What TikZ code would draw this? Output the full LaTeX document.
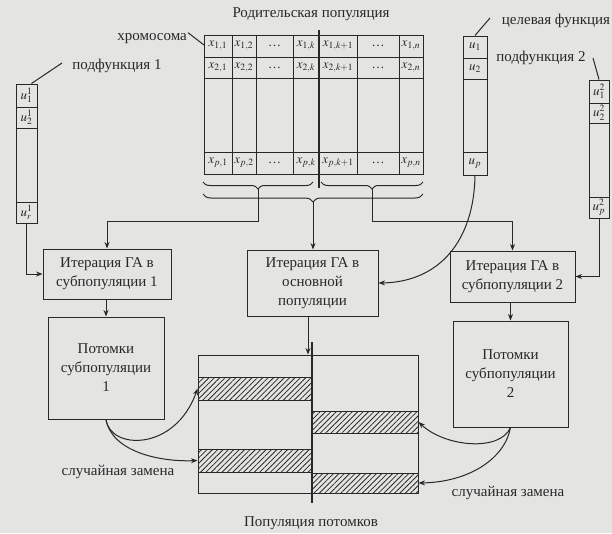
\documentclass[tikz,border=0pt]{standalone}
\usepackage{mathptmx}
\usepackage{fontspec}
\setmainfont{Liberation Serif}
\usetikzlibrary{arrows.meta,decorations.pathreplacing,patterns.meta}
\definecolor{paper}{RGB}{228,228,226}
\definecolor{ink}{RGB}{40,40,40}
\newcommand\lblf{\fontsize{15}{19}\selectfont}
\newcommand\cellf{\fontsize{13}{15}\selectfont}
\newcommand\xx[1]{$x_{#1}$}
\begin{document}
\begin{tikzpicture}[x=1pt,y=-1pt,
  ln/.style={draw=ink,line width=1pt},
  box/.style={draw=ink,line width=1pt,align=center,font=\lblf,inner sep=0pt,text=ink},
  lbl/.style={font=\lblf,inner sep=1pt,text=ink},
  ctext/.style={font=\cellf,inner sep=0pt,text=ink},
  cellc/.style={draw=ink,line width=1pt,inner sep=0pt,font=\cellf,text=ink},
  arr/.style={draw=ink,line width=1pt,-{Stealth[length=6.5pt,width=5pt]}},
  thickln/.style={draw=ink,line width=2.4pt},
  bar/.style={draw=ink,line width=1pt,inner sep=0pt,
    pattern={Lines[angle=45,distance=3.8pt,line width=0.8pt]},pattern color=ink}]
\fill[paper] (0,0) rectangle (612,533);
\useasboundingbox (0,0) rectangle (612,533);

% ---------- parent population table ----------
\node[lbl] (title) at (311,14) {Родительская популяция};
\draw[ln] (204,35) rectangle (423,174);
\foreach \xv in {232,256,293,357,399} \draw[ln] (\xv,35) -- (\xv,174);
\foreach \yv in {57,78,152} \draw[ln] (204,\yv) -- (423,\yv);
\foreach \r/\yc in {1/46, 2/67.5, p/163} {
  \node[ctext] (x\r-1) at (218,\yc) {\xx{\r,1}};
  \node[ctext] (x\r-2) at (244,\yc) {\xx{\r,2}};
  \node[ctext] (x\r-d1) at (274.5,\yc) {\dots};
  \node[ctext] (x\r-k) at (306,\yc) {\xx{\r,k}};
  \node[ctext] (x\r-k1) at (338,\yc) {\xx{\r,k+1}};
  \node[ctext] (x\r-d2) at (378,\yc) {\dots};
  \node[ctext] (x\r-n) at (411,\yc) {\xx{\r,n}};
}
\draw[thickln] (319,30) -- (319,188);

\node[lbl,anchor=east] (chr) at (188,39) {хромосома};
\coordinate (tl) at (204,45);
\draw[ln] (chr.north east) -- (tl);

% braces
\draw[ln,decorate,decoration={brace,amplitude=7pt,mirror}] (203,182) -- (313,182);
\draw[ln,decorate,decoration={brace,amplitude=7pt,mirror}] (321,182) -- (423,182);
\draw[ln,decorate,decoration={brace,amplitude=8pt,mirror}] (203,194) -- (423,194);
\coordinate (bl) at (258,189);
\coordinate (br) at (372,189);
\coordinate (bb) at (313,202);

% ---------- subfunction 1 column ----------
\node[lbl] (sf1) at (117,66) {подфункция 1};
\node[cellc,minimum width=21pt,minimum height=23pt] (a1) at (26.5,95.5) {$u_1^1$};
\node[cellc,minimum width=21pt,minimum height=21pt] (a2) at (26.5,117.5) {$u_2^1$};
\node[cellc,minimum width=21pt,minimum height=74pt] (a3) at (26.5,165) {};
\node[cellc,minimum width=21pt,minimum height=21pt] (a4) at (26.5,212.5) {$u_r^1$};
\coordinate (sf1p) at (62,63);
\draw[ln] (sf1p) -- ([xshift=5pt]a1.north);

% ---------- target function column ----------
\node[lbl] (tf) at (556,21) {целевая функция};
\node[cellc,minimum width=24pt,minimum height=22pt] (t1) at (475,47) {$u_1$};
\node[cellc,minimum width=24pt,minimum height=21pt] (t2) at (475,68.5) {$u_2$};
\node[cellc,minimum width=24pt,minimum height=73pt] (t3) at (475,115.5) {};
\node[cellc,minimum width=24pt,minimum height=23pt] (t4) at (475,163.5) {$u_p$};
\coordinate (tfp) at (490,18);
\draw[ln] (tfp) -- (t1.north);

% ---------- subfunction 2 column ----------
\node[lbl] (sf2) at (541,58) {подфункция 2};
\node[cellc,minimum width=20pt,minimum height=23pt] (c1) at (599,91.5) {$u_1^2$};
\node[cellc,minimum width=20pt,minimum height=20pt] (c2) at (599,113) {$u_2^2$};
\node[cellc,minimum width=20pt,minimum height=74pt] (c3) at (599,160) {};
\node[cellc,minimum width=20pt,minimum height=21pt] (c4) at (599,207.5) {$u_p^2$};
\coordinate (sf2p) at (593,58);
\draw[ln] (sf2p) -- (c1.north);

% ---------- GA iteration boxes ----------
\node[box,minimum width=128pt,minimum height=50pt] (b1) at (107,274) {Итерация ГА в\\субпопуляции 1};
\node[box,minimum width=131pt,minimum height=66pt] (bm) at (312.5,283) {Итерация ГА в\\основной\\популяции};
\node[box,minimum width=125pt,minimum height=51pt] (b2) at (512.5,276.5) {Итерация ГА в\\субпопуляции 2};

\draw[arr] (bl) -- (258,221) -| (b1.north);
\draw[arr] (br) -- (372,221) -| (b2.north);
\draw[arr] (bb) -- (bb |- bm.north);
\draw[arr] (a4.south) |- (b1.west);
\draw[arr] (c4.south) |- (b2.east);
\draw[arr] (t4.south) .. controls (474,240) and (440,282) .. (bm.east);

% ---------- offspring boxes ----------
\node[box,minimum width=116pt,minimum height=102pt] (p1) at (106,368) {Потомки\\субпопуляции\\1};
\node[box,minimum width=115pt,minimum height=106pt] (p2) at (510.5,374) {Потомки\\субпопуляции\\2};
\draw[arr] (b1.south -| p1.north) -- (p1.north);
\draw[arr] (b2.south -| p2.north) -- (p2.north);

% ---------- offspring population ----------
\node[draw=ink,line width=1pt,minimum width=220pt,minimum height=138pt,inner sep=0pt] (off) at (308,424) {};
\node[bar,minimum width=114pt,minimum height=23pt] (lb1) at (255,388.5) {};
\node[bar,minimum width=114pt,minimum height=23pt] (lb2) at (255,460.5) {};
\node[bar,minimum width=106pt,minimum height=22pt] (rb1) at (365,422) {};
\node[bar,minimum width=106pt,minimum height=20pt] (rb2) at (365,483) {};
\draw[thickln] (312,342) -- (312,503);
\draw[arr] ([xshift=-4.5pt]bm.south) -- ([xshift=-4.5pt]bm.south |- off.north);
\node[lbl] (offl) at (311,523) {Популяция потомков};

% random replacement
\draw[arr] (p1.south) .. controls (110,450) and (175,452) .. (lb1.west);
\draw[arr] (p1.south) .. controls (112,452) and (160,462) .. (lb2.west);
\draw[arr] (p2.south) .. controls (500,452) and (445,447) .. (rb1.east);
\draw[arr] (p2.south) .. controls (505,458) and (470,482) .. (rb2.east);
\node[lbl] (rl) at (118,472) {случайная замена};
\node[lbl] (rr) at (508,493) {случайная замена};
\end{tikzpicture}
\end{document}
